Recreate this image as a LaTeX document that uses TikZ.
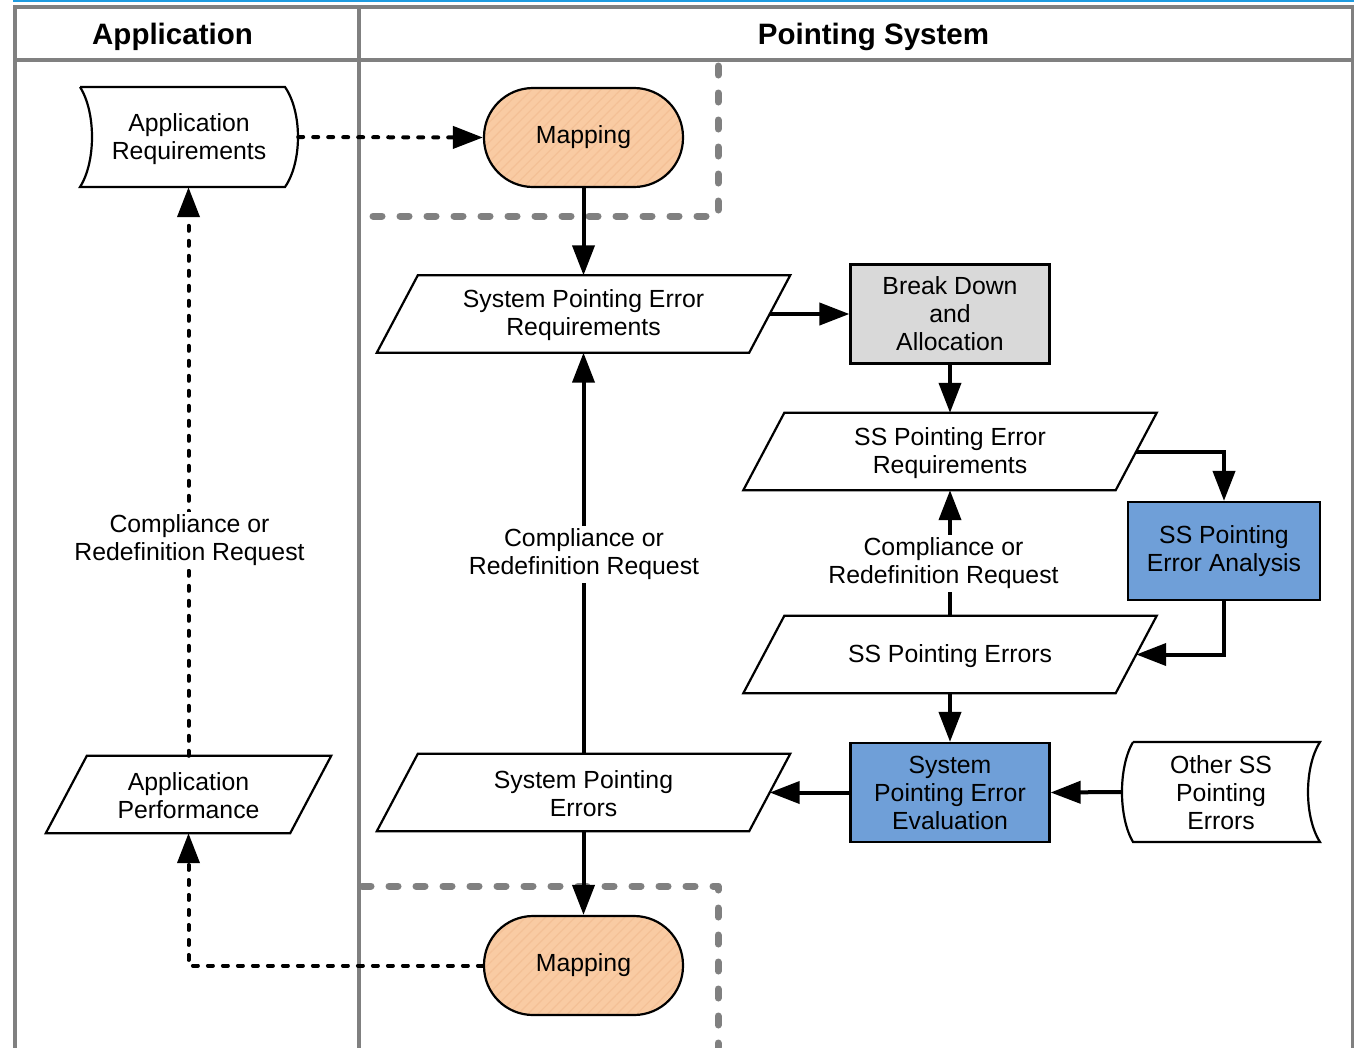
\documentclass[tikz,border=0pt]{standalone}
\usepackage{fontspec}
\setmainfont{Liberation Sans}
\usetikzlibrary{arrows.meta,patterns.meta,calc}
\definecolor{framegray}{HTML}{808080}
\definecolor{topblue}{HTML}{1E9BE0}
\definecolor{peach}{HTML}{F9CBA3}
\definecolor{peachline}{HTML}{F4C096}
\definecolor{boxblue}{HTML}{6F9FD8}
\definecolor{boxgray}{HTML}{D9D9D9}
\newcommand\drawpara[2]{\draw[line width=2.2pt, line join=miter, fill=white]
  ($(#1.north west)+(#2,0)$) -- ($(#1.north east)+(#2,0)$) --
  ($(#1.south east)-(#2,0)$) -- ($(#1.south west)-(#2,0)$) -- cycle;}
\begin{document}
\begin{tikzpicture}[x=1pt,y=-1pt,
  every node/.style={font=\fontsize{24.8}{28}\selectfont, align=center, inner sep=0pt},
  headtext/.style={font=\fontsize{29.5}{32}\selectfont\bfseries},
  procbox/.style={draw, line width=2.2pt, minimum width=199pt, minimum height=99pt},
  bluebox/.style={procbox, fill=boxblue},
  graybox/.style={procbox, fill=boxgray},
  mapnode/.style={draw, line width=2.2pt, rounded corners=49pt, minimum width=199pt,
    minimum height=99pt, preaction={fill=peach},
    preaction={pattern={Lines[angle=45,distance=7pt,line width=1.2pt]}, pattern color=peachline}},
  datanode/.style={minimum width=#1, minimum height=77pt},
  flow/.style={line width=4pt, -{Triangle[length=30pt,width=22pt]}},
  dotflow/.style={flow, dash pattern=on 5pt off 10pt, line cap=round},
  lanedash/.style={framegray, line width=7pt, dash pattern=on 9pt off 18pt, line cap=round, line join=round},
  lbl/.style={fill=white, inner sep=3pt}
]
\useasboundingbox (0,0) rectangle (1354,1047);
\clip (0,0) rectangle (1354,1047);
% top blue line
\draw[topblue, line width=2.5pt] (13,1.2) -- (1354,1.2);
% frame
\draw[framegray, line width=4pt] (15,1060) -- (15,6.5) -- (1352.5,6.5) -- (1352.5,1060);
\draw[framegray, line width=4pt] (15,59.5) -- (1352.5,59.5);
\draw[framegray, line width=4pt] (358.5,6.5) -- (358.5,1060);
\node[headtext] (hApp) at (172.5,37) {Application};
\node[headtext] (hPS) at (873.5,37) {Pointing System};
% gray dashed boundaries
\draw[lanedash] (718,66) -- (718,216) -- (362,216);
\draw[lanedash] (362,886) -- (718,886) -- (718,1047);

% nodes
\node (appreq) [minimum width=218pt, minimum height=100pt] at (189,137) {};
\draw[line width=2.2pt, fill=white] (80,87) -- (285,87) .. controls (302.3,112) and (302.3,162) .. (285,187)
   -- (80,187) .. controls (96,162) and (96,112) .. (80,87);
\node (appreqt) at (189,139) {Application\\Requirements};

\node[mapnode] (mapt) at (583.5,137.5) {Mapping};
\node[mapnode] (mapb) at (583.5,965.5) {Mapping};

\node[datanode=372pt] (sper) at (583.5,314) {};
\drawpara{sper}{20.5}
\node (sperT) at (583.5,315.5) {System Pointing Error\\Requirements};

\node[graybox] (bda) at (950,314) {Break Down\\and\\Allocation};

\node[datanode=372pt] (sser) at (950,451.5) {};
\drawpara{sser}{20.5}
\node (sserT) at (950,453) {SS Pointing Error\\Requirements};

\node[bluebox, minimum width=192pt, minimum height=98pt] (ssea) at (1224,551) {SS Pointing\\Error Analysis};

\node[datanode=372pt] (sse) at (950,654.5) {};
\drawpara{sse}{20.5}
\node (sseT) at (950,656) {SS Pointing Errors};

\node[bluebox] (spee) at (950,792.5) {System\\Pointing Error\\Evaluation};

\node[datanode=372pt] (spe) at (583.5,792.5) {};
\drawpara{spe}{20.5}
\node (speT) at (583.5,793.5) {System Pointing\\Errors};

\node[datanode=244pt] (appperf) at (188.5,794.5) {};
\drawpara{appperf}{20.5}
\node (appperfT) at (188.5,795.5) {Application\\Performance};

\node (other) [minimum width=198pt, minimum height=100pt] at (1221,792) {};
\draw[line width=2.2pt, fill=white] (1133,742) -- (1320,742) .. controls (1304,767) and (1304,817) .. (1320,842)
   -- (1133,842) .. controls (1118.3,817) and (1118.3,767) .. (1133,742);
\node (otherT) at (1221,793) {Other SS\\Pointing\\Errors};

% connectors
\draw[dotflow] (appreq.east) -- (mapt.west);
\draw[flow] (mapt.south) -- (sper.north);
\draw[flow] (sper.east) -- (bda.west);
\draw[flow] (bda.south) -- (sser.north);
\draw[flow] (sser.east) -| (ssea.north);
\draw[flow] (ssea.south) |- (sse.east);
\draw[flow] (sse.south) -- (spee.north);
\draw[flow] (sse.north) -- (sser.south);
\draw[flow] (spee.west) -- (spe.east);
\draw[flow] (other.west) -- (spee.east);
\draw[flow] (spe.north) -- (sper.south);
\draw[flow] (spe.south) -- (mapb.north);
\draw[dotflow] (mapb.west) -| (appperf.south);
\draw[dotflow] (appperf.north) -- (appperf.north |- appreq.south);

% labels
\node[lbl] (l1) at (189.5,540.5) {Compliance or\\Redefinition Request};
\node[lbl] (l2) at (584,554.5) {Compliance or\\Redefinition Request};
\node[lbl] (l3) at (943.5,563.5) {Compliance or\\Redefinition Request};
\end{tikzpicture}
\end{document}
